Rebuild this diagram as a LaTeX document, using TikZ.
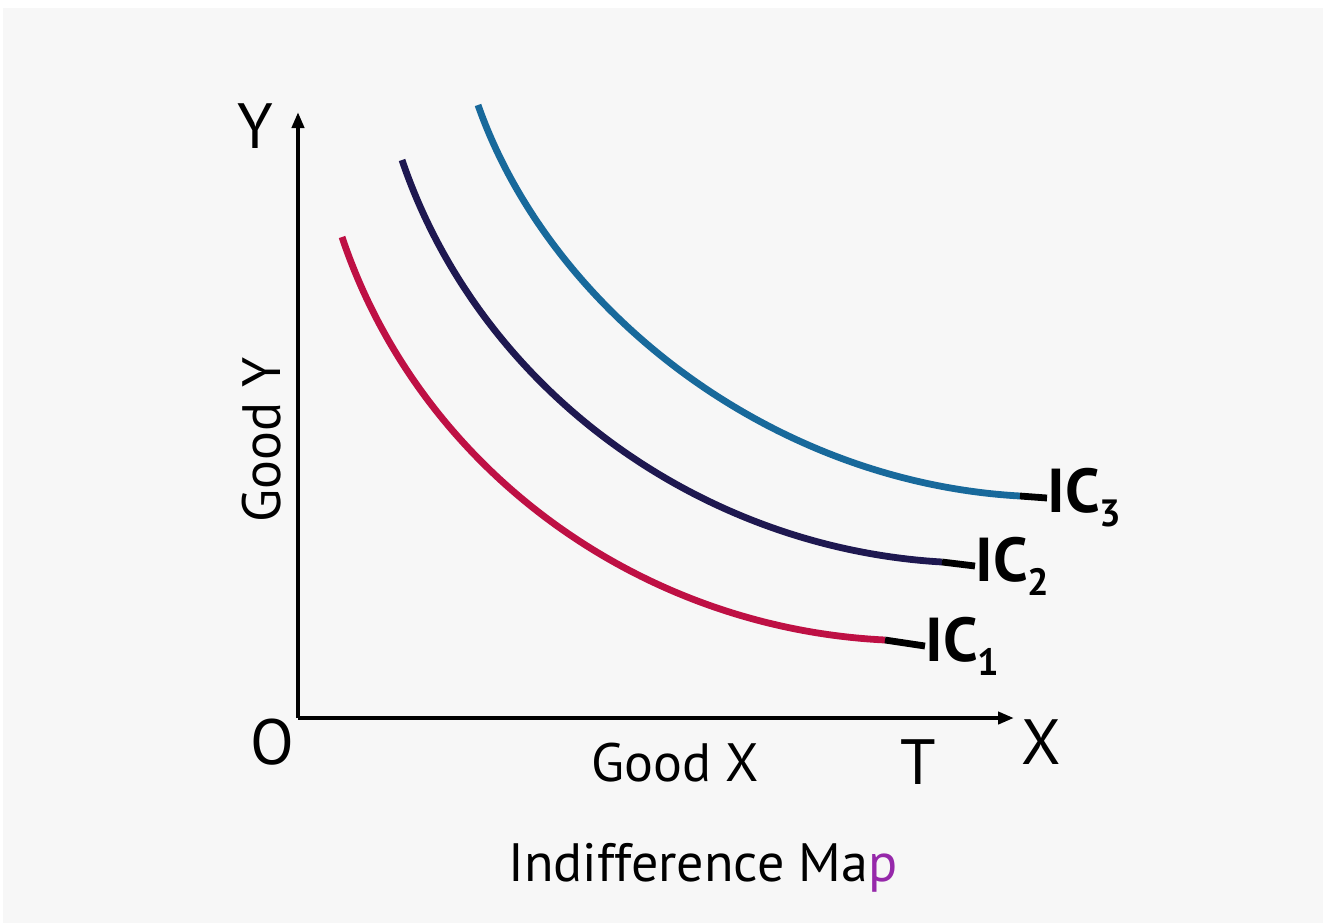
\documentclass[tikz,border=0pt]{standalone}
\usepackage{fontspec}
\setmainfont{PT Sans}
\usetikzlibrary{positioning,calc,arrows.meta}
\definecolor{bgray}{RGB}{247,247,247}
\definecolor{icone}{RGB}{190,16,68}
\definecolor{ictwo}{RGB}{30,24,80}
\definecolor{icthree}{RGB}{24,105,155}
\definecolor{mapp}{RGB}{150,40,170}
\newcommand{\icsub}[1]{\raisebox{-0.45ex}{\fontsize{19}{20}\selectfont #1}}
\begin{document}
\begin{tikzpicture}[x=0.5pt,y=-0.5pt,
  axis/.style={line width=2pt,-{Triangle[length=8pt,width=6pt]}},
  curve/.style={line width=3.4pt},
  axlab/.style={font=\fontsize{32}{36}\selectfont,inner sep=0pt},
  txtlab/.style={font=\fontsize{27}{32}\selectfont,inner sep=0pt},
  iclab/.style={font=\bfseries\fontsize{31}{36}\selectfont,inner sep=0pt,anchor=west}]
\useasboundingbox (0,0) rectangle (1323,923);
\fill[white] (0,0) rectangle (1323,923);
\fill[bgray] (3,8) rectangle (1323,923);
% axes
\coordinate (O) at (298,718);
\coordinate (ytip) at (298,112);
\coordinate (xtip) at (1014,718);
\draw[axis] (O) -- (ytip);
\draw[axis] (O) -- (xtip);
\node[axlab] (ylab) at (255,126) {Y};
\node[axlab] (olab) at (272,742) {O};
\node[axlab] (xlab) at (1041,742) {X};
\node[axlab] (tlab) at (918,762) {T};
\node[txtlab] (goodx) at (675,763) {Good X};
\node[txtlab,rotate=90] (goody) at (262,440) {Good Y};
\node[txtlab] (title) at (703,868) {Indifference Ma\textcolor{mapp}{p}};
% indifference curves
\node[iclab] (ic1) at (925,646) {IC\icsub{1}};
\node[iclab] (ic2) at (975,566) {IC\icsub{2}};
\node[iclab] (ic3) at (1047,498) {IC\icsub{3}};
\coordinate (a1) at (342,237);\coordinate (b1) at (885,640);
\coordinate (a2) at (402,160);\coordinate (b2) at (942,562);
\coordinate (a3) at (478,105);\coordinate (b3) at (1020,496);
\draw[curve,icone] (a1) .. controls (420,470) and (640,628) .. (b1);
\draw[curve,ictwo] (a2) .. controls (480,390) and (700,548) .. (b2);
\draw[curve,icthree] (a3) .. controls (550,310) and (770,482) .. (b3);
\draw[curve,black] (b1) -- (ic1.west);
\draw[curve,black] (b2) -- (ic2.west);
\draw[curve,black] (b3) -- (ic3.west);
\end{tikzpicture}
\end{document}
